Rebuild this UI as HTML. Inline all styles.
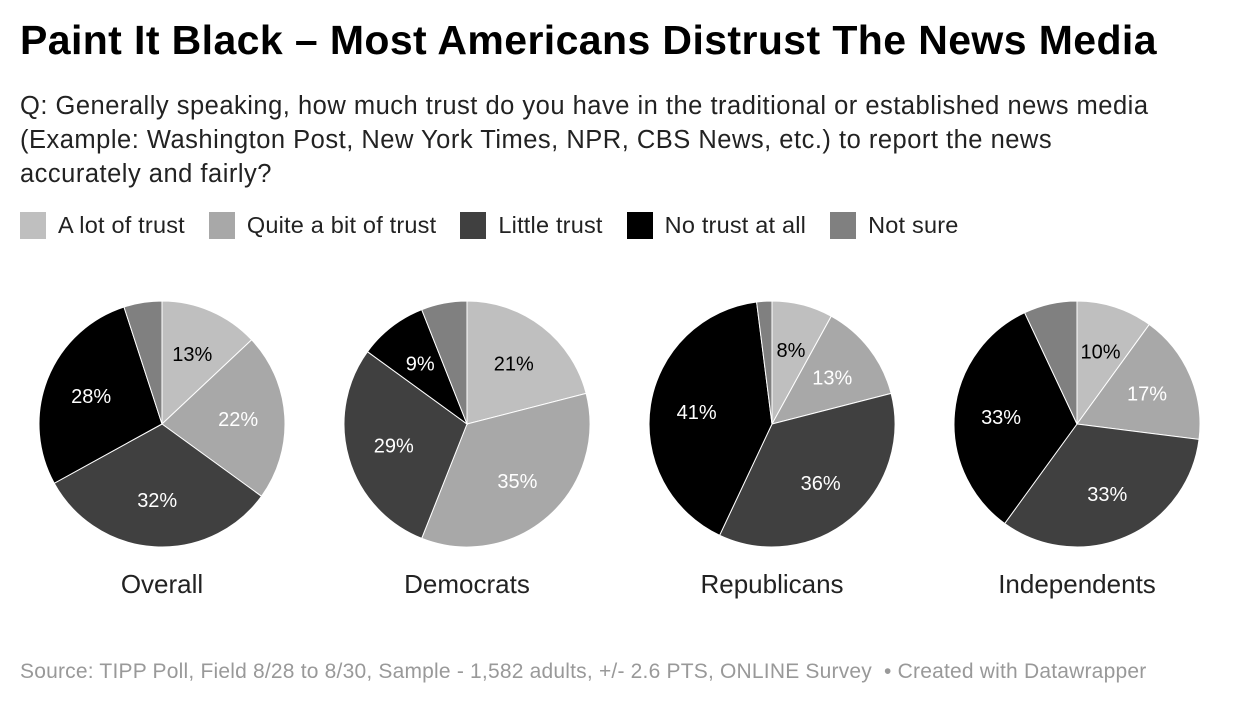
<!DOCTYPE html>
<html><head><meta charset="utf-8"><style>
body{margin:0;background:#fff;font-family:"Liberation Sans",sans-serif;width:1240px;height:706px;overflow:hidden;position:relative}
h1{position:absolute;left:20px;top:17px;margin:0;font-size:41px;font-weight:bold;color:#000;letter-spacing:0.4px;white-space:nowrap}
.q{position:absolute;left:20px;top:89px;font-size:25.5px;line-height:34px;color:#222;width:1210px;letter-spacing:0.5px}
.leg{position:absolute;top:212px;left:20px;display:flex;font-size:23.5px;color:#222;align-items:center;letter-spacing:0.2px}
.leg span.sw{display:inline-block;width:26px;height:27px;margin-right:12px}
.leg .it{display:flex;align-items:center;margin-right:24px}
.src{position:absolute;left:20px;top:660px;font-size:21px;color:#999;letter-spacing:0.2px;white-space:nowrap}
</style></head><body>
<h1>Paint It Black – Most Americans Distrust The News Media</h1>
<div class="q">Q: Generally speaking, how much trust do you have in the traditional or established news media<br>(Example: Washington Post, New York Times, NPR, CBS News, etc.) to report the news<br>accurately and fairly?</div>
<div class="leg">
<div class="it"><span class="sw" style="background:#bfbfbf"></span>A lot of trust</div>
<div class="it"><span class="sw" style="background:#a8a8a8"></span>Quite a bit of trust</div>
<div class="it"><span class="sw" style="background:#404040"></span>Little trust</div>
<div class="it"><span class="sw" style="background:#000"></span>No trust at all</div>
<div class="it"><span class="sw" style="background:#808080"></span>Not sure</div>
</div>
<svg id="pies" width="1240" height="706" style="position:absolute;left:0;top:0"></svg>
<div class="src">Source: TIPP Poll, Field 8/28 to 8/30, Sample - 1,582 adults, +/- 2.6 PTS, ONLINE Survey &nbsp;• Created with Datawrapper</div>
<script>
const groups=["Overall","Democrats","Republicans","Independents"];
const aLot=[13,21,8,10];
const quiteABit=[22,35,13,17];
const little=[32,29,36,33];
const noTrust=[28,9,41,33];
const notSure=[5,6,2,7];
const colors=["#bfbfbf","#a8a8a8","#404040","#000000","#808080"];
const svg=document.getElementById('pies');
const NS="http://www.w3.org/2000/svg";
const cx0=162,dx=305,cy=424,R=123;
groups.forEach((g,i)=>{
  const vals=[aLot[i],quiteABit[i],little[i],noTrust[i],notSure[i]];
  const tot=vals.reduce((a,b)=>a+b,0);
  const cx=cx0+dx*i;
  let a=0;
  vals.forEach((v,k)=>{
    const a0=a/tot*2*Math.PI,a1=(a+v)/tot*2*Math.PI;a+=v;
    const p=(t,r)=>[cx+r*Math.sin(t),cy-r*Math.cos(t)];
    const [x0,y0]=p(a0,R),[x1,y1]=p(a1,R);
    const path=document.createElementNS(NS,'path');
    path.setAttribute('d',`M${cx},${cy}L${x0},${y0}A${R},${R} 0 ${a1-a0>Math.PI?1:0} 1 ${x1},${y1}Z`);
    path.setAttribute('fill',colors[k]);path.setAttribute('stroke','#fff');path.setAttribute('stroke-width','1');
    
    
    svg.appendChild(path);
    if(k<4){
      const [tx,ty]=p((a0+a1)/2,R*0.62);
      const t=document.createElementNS(NS,'text');
      t.setAttribute('x',tx);t.setAttribute('y',ty+7);t.setAttribute('text-anchor','middle');
      t.setAttribute('font-size','20');t.setAttribute('fill',k===0?'#000':'#fff');
      t.setAttribute('font-family','Liberation Sans, sans-serif');
      t.textContent=v+'%';
      
      
      svg.appendChild(t);
    }
  });
  const lab=document.createElementNS(NS,'text');
  lab.setAttribute('x',cx);lab.setAttribute('y',593);lab.setAttribute('text-anchor','middle');
  lab.setAttribute('font-size','26');lab.setAttribute('fill','#222');lab.setAttribute('font-family','Liberation Sans, sans-serif');
  lab.textContent=g;
  
  
  svg.appendChild(lab);
});
</script>
</body></html>
